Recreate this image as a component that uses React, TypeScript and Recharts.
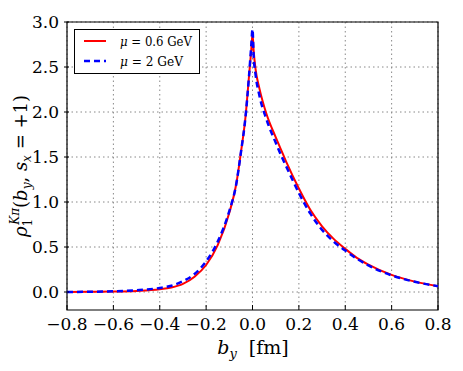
import {
  LineChart,
  Line,
  XAxis,
  YAxis,
  CartesianGrid,
  Legend,
  ReferenceArea,
} from 'recharts'

const bY = [-0.8, -0.7, -0.6, -0.5, -0.4, -0.35, -0.3, -0.25, -0.2, -0.15, -0.1, -0.07, -0.05, -0.03, -0.015, -0.005, 0, 0.005, 0.013, 0.03, 0.06, 0.1, 0.13, 0.15, 0.2, 0.25, 0.3, 0.35, 0.4, 0.45, 0.5, 0.6, 0.7, 0.8]
const rhoLow = [0.0, 0.002, 0.005, 0.012, 0.03, 0.05, 0.09, 0.17, 0.3, 0.52, 0.88, 1.2, 1.55, 1.95, 2.4, 2.7, 2.87, 2.68, 2.48, 2.26, 1.98, 1.72, 1.54, 1.42, 1.15, 0.91, 0.73, 0.59, 0.48, 0.38, 0.305, 0.19, 0.115, 0.065]
const rhoHigh = [0.0, 0.003, 0.008, 0.02, 0.045, 0.07, 0.12, 0.2, 0.34, 0.56, 0.9, 1.2, 1.55, 1.95, 2.4, 2.75, 2.92, 2.62, 2.42, 2.18, 1.92, 1.66, 1.48, 1.37, 1.1, 0.87, 0.69, 0.56, 0.46, 0.37, 0.295, 0.185, 0.113, 0.065]
const xTicks = [-0.8, -0.6, -0.4, -0.2, 0, 0.2, 0.4, 0.6, 0.8]
const yTicks = [0, 0.5, 1, 1.5, 2, 2.5, 3]

const data = bY.map((b, i) => ({ b, low: rhoLow[i], high: rhoHigh[i] }))

const FONT = "'DejaVu Serif', serif"
const fmt = (v: number) => (v < 0 ? '\u2212' : '') + Math.abs(v).toFixed(1)

const BottomTick = ({ x, y, payload }: any) => (
  <g>
    <line x1={x} x2={x} y1={y - 8} y2={y - 13} stroke="#000" />
    <text x={x} y={y + 12} textAnchor="middle" fontSize={17} fontFamily={FONT} fill="#000">
      {fmt(payload.value)}
    </text>
  </g>
)

const LeftTick = ({ x, y, payload }: any) => (
  <g>
    <line x1={x + 5} x2={x + 10} y1={y} y2={y} stroke="#000" />
    <text x={x} y={y + 6} textAnchor="end" fontSize={17} fontFamily={FONT} fill="#000">
      {fmt(payload.value)}
    </text>
  </g>
)

const TopTick = ({ x, y }: any) => <line x1={x} x2={x} y1={y} y2={y + 5} stroke="#000" />
const RightTick = ({ x, y }: any) => <line x1={x} x2={x - 5} y1={y} y2={y} stroke="#000" />

const XTitle = () => (
  <text x={253} y={354} textAnchor="middle" fontSize={19} fontFamily={FONT} fill="#000">
    <tspan fontStyle="italic">b</tspan>
    <tspan fontSize={13} fontStyle="italic" dy={4}>y</tspan>
    <tspan dy={-4}>{'\u00a0\u00a0[fm]'}</tspan>
  </text>
)

const YTitle = () => (
  <text
    x={0}
    y={0}
    transform="translate(27,166) rotate(-90)"
    textAnchor="middle"
    fontSize={18}
    fontFamily={FONT}
    fill="#000"
  >
    <tspan fontStyle="italic">ρ</tspan>
    <tspan fontSize={12} dy={5}>1</tspan>
    <tspan fontSize={12} fontStyle="italic" dx={-6} dy={-13}>Kπ</tspan>
    <tspan dy={8}>(</tspan>
    <tspan fontStyle="italic">b</tspan>
    <tspan fontSize={12} fontStyle="italic" dy={4}>y</tspan>
    <tspan dy={-4}>, </tspan>
    <tspan fontStyle="italic">s</tspan>
    <tspan fontSize={12} fontStyle="italic" dy={4}>x</tspan>
    <tspan dy={-4}> = +1)</tspan>
  </text>
)

const LegendBox = () => (
  <div
    style={{
      width: 124,
      height: 43,
      border: '1px solid #000',
      background: '#fff',
      boxSizing: 'content-box',
    }}
  >
    <svg width={124} height={43}>
      <line x1={9} x2={31} y1={11} y2={11} stroke="#ff0000" strokeWidth={2} />
      <text x={45} y={16} fontSize={13} fontFamily={FONT} textLength={72} lengthAdjust="spacingAndGlyphs">
        <tspan fontStyle="italic">μ</tspan> = 0.6 GeV
      </text>
      <line x1={9} x2={31} y1={31} y2={31} stroke="#0000ff" strokeWidth={2.5} strokeDasharray="6 4" />
      <text x={45} y={36} fontSize={13} fontFamily={FONT} textLength={63} lengthAdjust="spacingAndGlyphs">
        <tspan fontStyle="italic">μ</tspan> = 2 GeV
      </text>
    </svg>
  </div>
)

export default function App() {
  return (
    <div style={{ position: 'absolute', left: 0, top: 0, width: 463, height: 371, background: '#fff' }}>
      <LineChart width={463} height={371} data={data} margin={{ top: 22, right: 25, left: 0, bottom: 0 }}>
        <CartesianGrid
          stroke="#888"
          strokeDasharray="1.5 3"
          horizontalValues={yTicks}
          verticalValues={xTicks}
        />
        <XAxis
          dataKey="b"
          type="number"
          domain={[-0.8, 0.8]}
          ticks={xTicks}
          height={61}
          tickSize={0}
          tickMargin={8}
          axisLine={false}
          tick={<BottomTick />}
          interval={0}
          label={<XTitle />}
        />
        <XAxis
          xAxisId="top"
          orientation="top"
          type="number"
          domain={[-0.8, 0.8]}
          ticks={xTicks}
          height={0}
          tickSize={0}
          tickMargin={0}
          axisLine={false}
          tick={<TopTick />}
          interval={0}
        />
        <YAxis
          type="number"
          domain={[-0.2, 3.0]}
          ticks={yTicks}
          width={67}
          tickSize={0}
          tickMargin={8}
          axisLine={false}
          tick={<LeftTick />}
          interval={0}
          label={<YTitle />}
        />
        <YAxis
          yAxisId="right"
          orientation="right"
          type="number"
          domain={[-0.2, 3.0]}
          ticks={yTicks}
          width={0}
          tickSize={0}
          tickMargin={0}
          axisLine={false}
          tick={<RightTick />}
          interval={0}
        />
        <ReferenceArea x1={-0.8} x2={0.8} y1={-0.2} y2={3.0} fill="none" stroke="#000" strokeWidth={1.2} ifOverflow="extendDomain" />
        <Legend
          layout="vertical"
          align="center"
          verticalAlign="middle"
          content={<LegendBox />}
          wrapperStyle={{ position: 'absolute', left: 74, top: 29, width: 126, height: 45 }}
        />
        <Line
          type="monotone"
          dataKey="low"
          name="μ = 0.6 GeV"
          stroke="#ff0000"
          strokeWidth={2}
          dot={false}
          isAnimationActive={false}
        />
        <Line
          type="monotone"
          dataKey="high"
          name="μ = 2 GeV"
          stroke="#0000ff"
          strokeWidth={2.5}
          strokeDasharray="6 4"
          dot={false}
          isAnimationActive={false}
        />
      </LineChart>
    </div>
  )
}
